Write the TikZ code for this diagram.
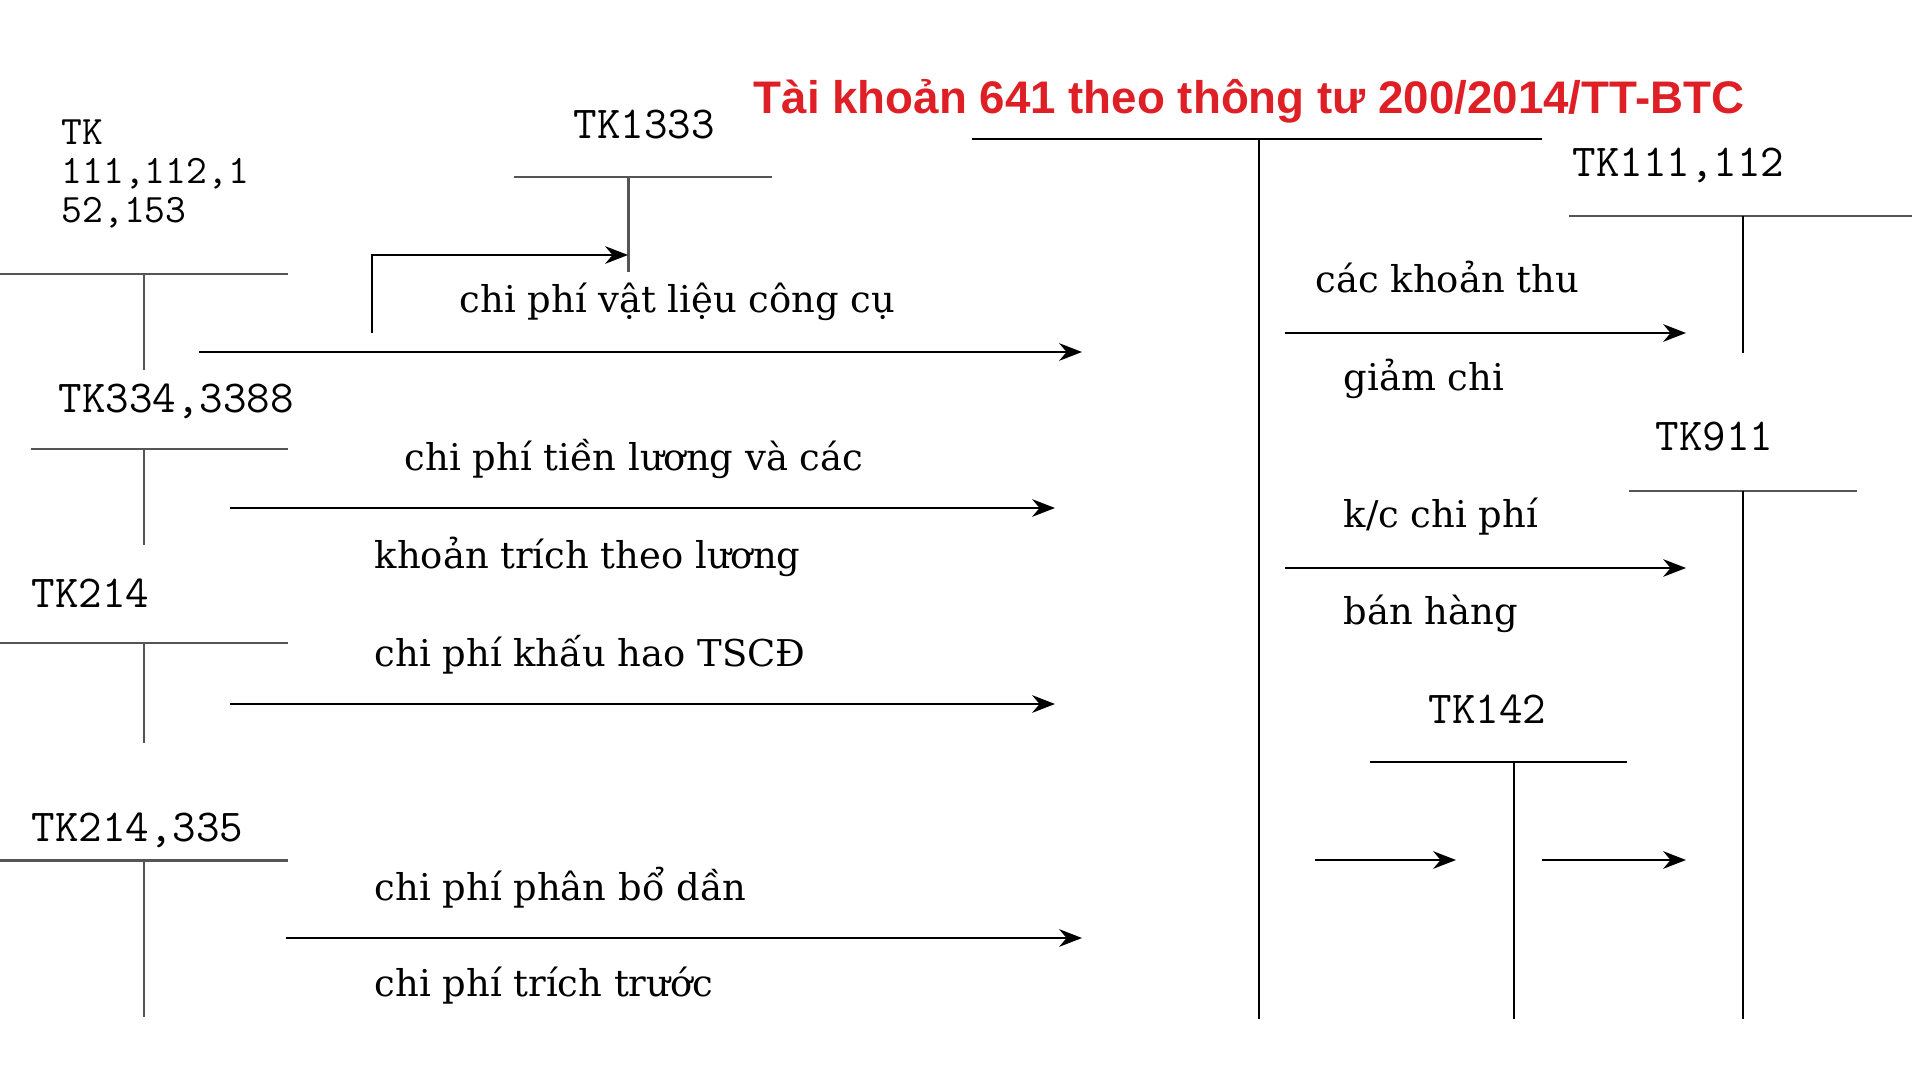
\documentclass[tikz,border=0pt]{standalone}
\usepackage{fontspec}
\setmainfont{DejaVu Serif}
\newfontfamily\titlefont{Liberation Sans}
\usetikzlibrary{arrows.meta,positioning}
\definecolor{titlered}{RGB}{222,32,38}
\definecolor{tgray}{RGB}{85,85,85}

\begin{document}
\begin{tikzpicture}[
    acct/.style={font=\ttfamily\fontsize{13}{14}\selectfont, anchor=base west, inner sep=0pt},
    note/.style={font=\fontsize{10.5}{13}\selectfont, anchor=base west, inner sep=0pt},
    tline/.style={draw=tgray, line width=0.85pt},
    tmain/.style={draw=black, line width=0.6pt},
    arrow/.style={-{Stealth[length=6.5pt,width=5pt]}, line width=0.75pt}
]
    \useasboundingbox (0,0) rectangle (19.2,-10.8);

    % Title
    \node[font=\titlefont\bfseries\fontsize{13}{15}\selectfont, text=titlered, anchor=base] (title) at (12.49,-1.14) {Tài khoản 641 theo thông tư 200/2014/TT-BTC};

    % Account names (left)
    \node[acct, anchor=north west, align=left, font=\ttfamily\fontsize{11.5}{11.1}\selectfont] (tk111) at (0.61,-1.19) {TK\\111,112,1\\52,153};
    \node[acct] (tk1333) at (5.73,-1.39) {TK1333};
    \node[acct] (tk334) at (0.58,-4.12) {TK334,3388};
    \node[acct] (tk214) at (0.31,-6.07) {TK214};
    \node[acct] (tk214b) at (0.31,-8.41) {TK214,335};

    % Account names (right)
    \node[acct] (tk111r) at (15.72,-1.77) {TK111,112};
    \node[acct] (tk911) at (16.55,-4.51) {TK911};
    \node[acct] (tk142) at (14.28,-7.23) {TK142};

    % T-account rules
    \draw[tline] (0,-2.74) -- (2.88,-2.74);
    \draw[tline] (1.44,-2.74) -- (1.44,-3.70);
    \draw[tline] (5.14,-1.77) -- (7.72,-1.77);
    \draw[tline] (6.28,-1.77) -- (6.28,-2.72);
    \draw[tline] (0.31,-4.49) -- (2.88,-4.49);
    \draw[tline] (1.44,-4.49) -- (1.44,-5.45);
    \draw[tline] (0,-6.43) -- (2.88,-6.43);
    \draw[tline] (1.44,-6.43) -- (1.44,-7.43);
    \draw[tline] (0,-8.60) -- (2.88,-8.60);
    \draw[tline] (1.44,-8.60) -- (1.44,-10.17);

    % TK641
    \draw[tmain] (9.72,-1.39) -- (15.42,-1.39);
    \draw[tmain] (12.59,-1.39) -- (12.59,-10.19);

    % right side rules
    \draw[tline] (15.69,-2.16) -- (19.12,-2.16);
    \draw[tmain] (17.43,-2.16) -- (17.43,-3.53);
    \draw[tline] (16.29,-4.91) -- (18.57,-4.91);
    \draw[tmain] (17.43,-4.91) -- (17.43,-10.19);
    \draw[tmain] (13.70,-7.62) -- (16.27,-7.62);
    \draw[tmain] (15.14,-7.62) -- (15.14,-10.19);

    % Entry texts
    \node[note] (vatlieu) at (4.59,-3.13) {chi phí vật liệu công cụ};
    \node[note] (luong1) at (4.04,-4.70) {chi phí tiền lương và các};
    \node[note] (luong2) at (3.74,-5.68) {khoản trích theo lương};
    \node[note] (khauhao) at (3.74,-6.66) {chi phí khấu hao TSCĐ};
    \node[note] (phanbo) at (3.74,-9.00) {chi phí phân bổ dần};
    \node[note] (trichtruoc) at (3.74,-9.96) {chi phí trích trước};
    \node[note] (khoanthu) at (13.15,-2.93) {các khoản thu};
    \node[note] (giamchi) at (13.43,-3.91) {giảm chi};
    \node[note] (kcchiphi) at (13.43,-5.27) {k/c chi phí};
    \node[note] (banhang) at (13.43,-6.24) {bán hàng};

    % Arrow ends
    \coordinate (vat0) at (3.72,-3.33);
    \coordinate (vat1) at (6.28,-2.55);
    \coordinate (a1s) at (1.99,-3.52);
    \coordinate (a1e) at (10.82,-3.52);
    \coordinate (a2s) at (2.30,-5.08);
    \coordinate (a2e) at (10.55,-5.08);
    \coordinate (a3s) at (2.30,-7.04);
    \coordinate (a3e) at (10.55,-7.04);
    \coordinate (a4s) at (2.86,-9.38);
    \coordinate (a4e) at (10.82,-9.38);
    \coordinate (b1s) at (12.85,-3.33);
    \coordinate (b1e) at (16.86,-3.33);
    \coordinate (b2s) at (12.85,-5.68);
    \coordinate (b2e) at (16.86,-5.68);
    \coordinate (b3s) at (13.15,-8.60);
    \coordinate (b3e) at (14.56,-8.60);
    \coordinate (b4s) at (15.42,-8.60);
    \coordinate (b4e) at (16.86,-8.60);

    % Arrows
    \draw[arrow] (vat0) |- (vat1);
    \draw[arrow] (a1s) -- (a1e);
    \draw[arrow] (a2s) -- (a2e);
    \draw[arrow] (a3s) -- (a3e);
    \draw[arrow] (a4s) -- (a4e);
    \draw[arrow] (b1s) -- (b1e);
    \draw[arrow] (b2s) -- (b2e);
    \draw[arrow] (b3s) -- (b3e);
    \draw[arrow] (b4s) -- (b4e);
\end{tikzpicture}
\end{document}
